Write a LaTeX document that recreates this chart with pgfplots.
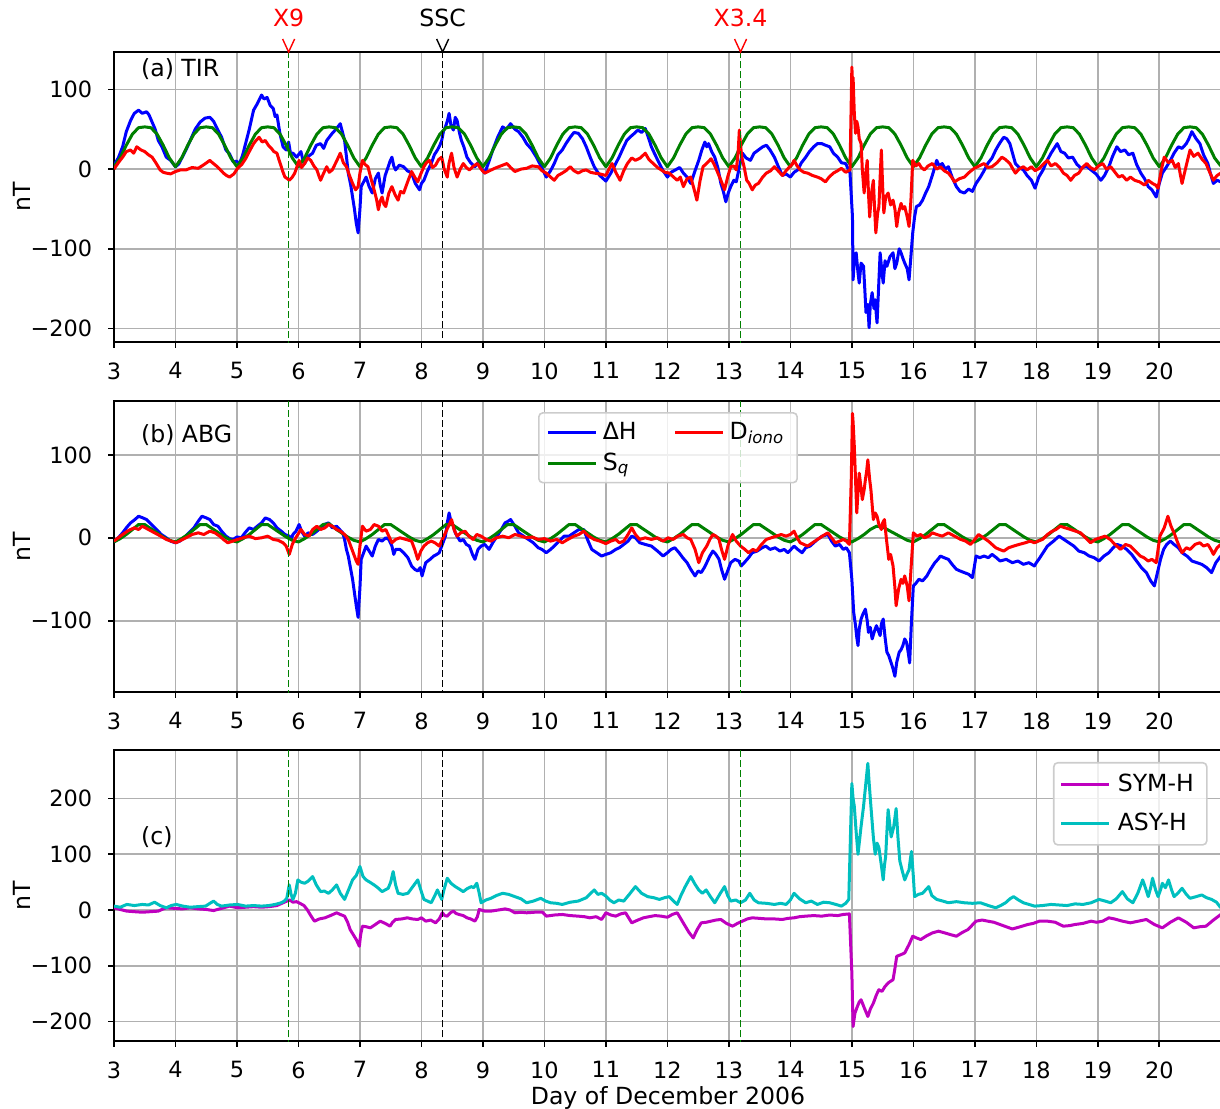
\documentclass[border=0pt]{standalone}
\usepackage{fontspec}
\setmainfont{DejaVu Sans}
\usepackage{pgfplots}
\pgfplotsset{compat=1.18}
\definecolor{gridc}{HTML}{B0B0B0}
\definecolor{mgreen}{HTML}{008000}
\definecolor{mmag}{HTML}{BF00BF}
\definecolor{mcyan}{HTML}{00BFBF}

\pgfplotsset{
  panel/.style={
    scale only axis, width=554pt, height=145.5pt,
    xmin=3, xmax=21.02,
    xtick={3,4,...,20},
    xticklabels={3,4,5,6,7,8,9,10,11,12,13,14,15,16,17,18,19,20},
    xtick pos=bottom, ytick pos=left,
    tick align=outside, major tick length=2.9pt,
    tick style={black, line width=0.8pt},
    axis line style={line width=0.8pt},
    grid=major, grid style={gridc, line width=0.8pt},
    tick label style={font=\fontsize{11.2}{13}\selectfont},
    xticklabel style={anchor=north, inner sep=0pt, yshift=-7.2pt},
    yticklabel style={anchor=east, inner sep=0pt, xshift=-7.8pt},
    ylabel={nT},
    ylabel style={at={(axis description cs:-0.083,0.5)}, anchor=center},
    clip mode=individual,
    every axis plot/.append style={line width=1.5pt, line join=round},
    legend image code/.code={\draw[#1] (0pt,0pt) -- (24pt,0pt);},
  },
  evline/.style={line width=0.8pt, dash pattern=on 3.5pt off 1.5pt, forget plot},
}

\begin{document}
\fontsize{11.8}{14.2}\selectfont
\begin{tikzpicture}

% ---------------- (a) TIR ----------------
\begin{axis}[panel, at={(57pt,-171pt)}, anchor=south west, height=145pt,
  ymin=-217, ymax=147,
  ytick={-200,-100,0,100}, yticklabels={−200,−100,0,100}]
\addplot[blue, forget plot] coordinates {
(3.0,5)(3.07,14)(3.14,28)(3.2,47)(3.27,61)(3.33,70)(3.4,74)(3.46,70)(3.53,72)(3.57,68)(3.62,59)(3.67,50)(3.72,36)(3.78,28)(3.85,15)(3.92,11)(4.0,3)(4.05,6)(4.11,15)(4.17,24)(4.24,36)(4.32,50)(4.4,59)(4.48,64)(4.56,65)(4.62,60)(4.69,49)(4.75,40)(4.82,24)(4.88,19)(4.94,9)(4.99,10)(5.04,7)(5.09,17)(5.14,32)(5.2,50)(5.27,74)(5.33,82)(5.4,93)(5.44,88)(5.49,90)(5.54,80)(5.59,76)(5.62,66)(5.65,68)(5.7,44)(5.75,28)(5.8,24)(5.84,34)(5.87,20)(5.91,20)(5.97,15)(6.04,22)(6.07,12)(6.1,7)(6.16,16)(6.23,20)(6.29,30)(6.36,32)(6.41,26)(6.46,36)(6.5,40)(6.55,45)(6.61,50)(6.68,57)(6.71,48)(6.75,36)(6.78,16)(6.81,-5)(6.85,-20)(6.88,-35)(6.91,-50)(6.94,-68)(6.97,-80)(7.0,-50)(7.02,-22)(7.06,-16)(7.1,-10)(7.15,-22)(7.2,-30)(7.25,-12)(7.3,-5)(7.33,-20)(7.36,-30)(7.41,-8)(7.46,3)(7.49,10)(7.52,15)(7.55,4)(7.58,-1)(7.64,5)(7.71,3)(7.77,-2)(7.84,-5)(7.9,-18)(7.97,-26)(8.0,-18)(8.04,-14)(8.1,-2)(8.16,7)(8.21,18)(8.26,24)(8.3,30)(8.33,36)(8.36,48)(8.39,53)(8.42,60)(8.45,70)(8.48,55)(8.52,49)(8.55,65)(8.58,61)(8.62,45)(8.65,36)(8.69,28)(8.74,15)(8.8,8)(8.87,3)(8.92,8)(8.97,3)(9.0,-2)(9.03,-5)(9.1,10)(9.16,24)(9.24,40)(9.32,53)(9.38,50)(9.45,57)(9.52,50)(9.58,47)(9.65,40)(9.71,32)(9.79,25)(9.87,15)(9.95,3)(10.03,-10)(10.1,-2)(10.16,7)(10.22,18)(10.29,24)(10.35,32)(10.42,40)(10.48,46)(10.55,45)(10.62,38)(10.68,28)(10.75,14)(10.81,3)(10.9,-8)(11.0,-15)(11.08,-5)(11.16,7)(11.22,16)(11.29,28)(11.34,36)(11.39,40)(11.45,44)(11.52,49)(11.58,46)(11.64,51)(11.69,40)(11.74,28)(11.8,18)(11.87,7)(11.93,-2)(12.0,-10)(12.06,-4)(12.13,-1)(12.2,2)(12.26,-5)(12.32,-10)(12.38,-18)(12.45,-2)(12.51,11)(12.56,24)(12.61,34)(12.64,28)(12.67,32)(12.72,22)(12.77,15)(12.82,2)(12.87,-18)(12.91,-28)(12.95,-41)(12.99,-30)(13.03,-22)(13.08,-14)(13.12,-16)(13.17,2)(13.22,20)(13.28,14)(13.35,11)(13.41,20)(13.48,24)(13.55,28)(13.61,30)(13.67,24)(13.74,15)(13.8,4)(13.87,-8)(13.93,-6)(14.0,-10)(14.06,-4)(14.12,-1)(14.18,8)(14.25,15)(14.31,22)(14.38,28)(14.44,32)(14.51,32)(14.57,30)(14.64,28)(14.7,20)(14.77,15)(14.83,8)(14.9,7)(14.97,-5)(15.01,-60)(15.02,-139)(15.04,-115)(15.07,-105)(15.1,-130)(15.12,-143)(15.15,-118)(15.19,-122)(15.21,-150)(15.23,-180)(15.26,-170)(15.28,-199)(15.3,-170)(15.33,-155)(15.36,-175)(15.38,-164)(15.4,-185)(15.41,-193)(15.44,-140)(15.46,-105)(15.49,-130)(15.51,-143)(15.54,-115)(15.57,-122)(15.62,-110)(15.67,-105)(15.7,-125)(15.73,-118)(15.77,-100)(15.8,-105)(15.83,-112)(15.86,-118)(15.9,-125)(15.93,-139)(15.96,-110)(15.99,-80)(16.02,-60)(16.05,-47)(16.1,-45)(16.15,-39)(16.2,-30)(16.25,-22)(16.32,-5)(16.38,11)(16.42,4)(16.47,7)(16.52,0)(16.57,3)(16.63,-10)(16.7,-22)(16.76,-28)(16.83,-30)(16.9,-25)(16.96,-28)(17.02,-18)(17.09,-10)(17.15,-2)(17.21,7)(17.28,14)(17.34,24)(17.4,32)(17.47,40)(17.52,38)(17.57,32)(17.62,18)(17.66,7)(17.72,2)(17.79,-1)(17.85,-8)(17.92,-14)(17.98,-24)(18.04,-10)(18.11,-1)(18.17,10)(18.24,20)(18.29,26)(18.34,32)(18.4,22)(18.46,20)(18.52,14)(18.59,15)(18.66,6)(18.73,1)(18.81,4)(18.89,-1)(18.97,-6)(19.05,-14)(19.11,-8)(19.18,3)(19.24,16)(19.31,28)(19.37,22)(19.44,24)(19.5,18)(19.57,20)(19.63,6)(19.7,-5)(19.76,-12)(19.82,-22)(19.88,-26)(19.95,-35)(20.0,-18)(20.05,-5)(20.11,2)(20.18,11)(20.24,20)(20.31,28)(20.37,26)(20.44,32)(20.48,38)(20.53,47)(20.6,38)(20.66,32)(20.72,18)(20.79,7)(20.83,-5)(20.88,-18)(20.94,-14)(21.0,-16)
};
\addplot[mgreen, forget plot] coordinates {
(3.0,3)(3.1,14)(3.2,30)(3.3,44)(3.4,52)(3.5,53)(3.6,52)(3.7,44)(3.8,30)(3.9,14)
(4.0,3)(4.1,14)(4.2,30)(4.3,44)(4.4,52)(4.5,53)(4.6,52)(4.7,44)(4.8,30)(4.9,14)
(5.0,3)(5.1,14)(5.2,30)(5.3,44)(5.4,52)(5.5,53)(5.6,52)(5.7,44)(5.8,30)(5.9,14)
(6.0,3)(6.1,14)(6.2,30)(6.3,44)(6.4,52)(6.5,53)(6.6,52)(6.7,44)(6.8,30)(6.9,14)
(7.0,3)(7.1,14)(7.2,30)(7.3,44)(7.4,52)(7.5,53)(7.6,52)(7.7,44)(7.8,30)(7.9,14)
(8.0,3)(8.1,14)(8.2,30)(8.3,44)(8.4,52)(8.5,53)(8.6,52)(8.7,44)(8.8,30)(8.9,14)
(9.0,3)(9.1,14)(9.2,30)(9.3,44)(9.4,52)(9.5,53)(9.6,52)(9.7,44)(9.8,30)(9.9,14)
(10.0,3)(10.1,14)(10.2,30)(10.3,44)(10.4,52)(10.5,53)(10.6,52)(10.7,44)(10.8,30)(10.9,14)
(11.0,3)(11.1,14)(11.2,30)(11.3,44)(11.4,52)(11.5,53)(11.6,52)(11.7,44)(11.8,30)(11.9,14)
(12.0,3)(12.1,14)(12.2,30)(12.3,44)(12.4,52)(12.5,53)(12.6,52)(12.7,44)(12.8,30)(12.9,14)
(13.0,3)(13.1,14)(13.2,30)(13.3,44)(13.4,52)(13.5,53)(13.6,52)(13.7,44)(13.8,30)(13.9,14)
(14.0,3)(14.1,14)(14.2,30)(14.3,44)(14.4,52)(14.5,53)(14.6,52)(14.7,44)(14.8,30)(14.9,14)
(15.0,3)(15.1,14)(15.2,30)(15.3,44)(15.4,52)(15.5,53)(15.6,52)(15.7,44)(15.8,30)(15.9,14)
(16.0,3)(16.1,14)(16.2,30)(16.3,44)(16.4,52)(16.5,53)(16.6,52)(16.7,44)(16.8,30)(16.9,14)
(17.0,3)(17.1,14)(17.2,30)(17.3,44)(17.4,52)(17.5,53)(17.6,52)(17.7,44)(17.8,30)(17.9,14)
(18.0,3)(18.1,14)(18.2,30)(18.3,44)(18.4,52)(18.5,53)(18.6,52)(18.7,44)(18.8,30)(18.9,14)
(19.0,3)(19.1,14)(19.2,30)(19.3,44)(19.4,52)(19.5,53)(19.6,52)(19.7,44)(19.8,30)(19.9,14)
(20.0,3)(20.1,14)(20.2,30)(20.3,44)(20.4,52)(20.5,53)(20.6,52)(20.7,44)(20.8,30)(20.9,14)(21.0,4)
};
\addplot[red, forget plot] coordinates {
(3.0,0)(3.07,8)(3.14,15)(3.2,22)(3.27,24)(3.32,20)(3.37,28)(3.44,24)(3.5,22)(3.56,18)(3.62,15)(3.68,8)(3.75,-1)(3.8,-4)(3.85,-5)(3.92,-6)(4.0,-3)(4.08,-1)(4.17,-1)(4.27,2)(4.37,1)(4.47,6)(4.56,11)(4.6,8)(4.65,5)(4.72,0)(4.78,-5)(4.83,-8)(4.88,-10)(4.95,-6)(5.01,1)(5.08,6)(5.14,13)(5.2,22)(5.27,32)(5.31,36)(5.36,40)(5.41,34)(5.46,36)(5.51,30)(5.56,26)(5.6,22)(5.65,20)(5.69,10)(5.72,3)(5.75,-4)(5.78,-10)(5.82,-12)(5.85,-14)(5.9,-10)(5.94,-5)(5.98,4)(6.01,11)(6.05,2)(6.1,7)(6.15,14)(6.2,11)(6.25,4)(6.3,-1)(6.33,-8)(6.36,-14)(6.41,-5)(6.46,3)(6.5,-4)(6.55,-1)(6.62,10)(6.68,20)(6.73,8)(6.78,3)(6.83,-8)(6.88,-18)(6.93,-26)(6.97,-22)(7.0,-5)(7.04,11)(7.08,6)(7.13,3)(7.18,-12)(7.23,-26)(7.27,-38)(7.3,-51)(7.33,-40)(7.36,-35)(7.39,-44)(7.42,-47)(7.47,-30)(7.52,-22)(7.57,-32)(7.62,-39)(7.66,-28)(7.71,-30)(7.78,-15)(7.84,-3)(7.89,-10)(7.94,-16)(7.99,-6)(8.04,3)(8.08,8)(8.13,11)(8.18,2)(8.23,5)(8.28,12)(8.33,15)(8.37,0)(8.42,-10)(8.45,8)(8.49,20)(8.53,2)(8.58,-10)(8.63,0)(8.68,7)(8.73,2)(8.78,-1)(8.85,4)(8.91,7)(8.97,0)(9.03,-5)(9.11,-2)(9.19,1)(9.29,4)(9.39,7)(9.45,2)(9.52,-3)(9.62,0)(9.71,1)(9.8,4)(9.9,3)(9.96,-2)(10.03,-5)(10.1,-10)(10.16,-14)(10.22,-8)(10.29,-5)(10.35,-2)(10.42,3)(10.48,-2)(10.55,-5)(10.62,-2)(10.68,-1)(10.75,-4)(10.81,-5)(10.9,-6)(11.0,-8)(11.05,0)(11.1,7)(11.16,-4)(11.23,-14)(11.29,-2)(11.35,7)(11.42,14)(11.48,11)(11.56,14)(11.64,20)(11.7,12)(11.77,7)(11.84,2)(11.9,-1)(11.96,-4)(12.03,-5)(12.1,-10)(12.16,-14)(12.21,-10)(12.26,-22)(12.32,-12)(12.38,-10)(12.43,-24)(12.48,-39)(12.53,-15)(12.58,3)(12.65,8)(12.71,13)(12.76,6)(12.8,-1)(12.87,-14)(12.93,-26)(12.98,-10)(13.03,3)(13.08,4)(13.12,-1)(13.15,20)(13.17,49)(13.19,30)(13.21,15)(13.25,2)(13.29,-14)(13.33,-18)(13.38,-26)(13.43,-20)(13.48,-18)(13.55,-10)(13.61,-5)(13.68,-2)(13.74,3)(13.8,-2)(13.87,-8)(13.93,-2)(13.99,3)(14.03,6)(14.06,11)(14.11,4)(14.16,-1)(14.22,-4)(14.28,-5)(14.36,-8)(14.44,-10)(14.5,-12)(14.57,-16)(14.63,-10)(14.7,-5)(14.77,-2)(14.83,1)(14.9,-4)(14.97,-1)(15.0,128)(15.01,110)(15.02,115)(15.04,70)(15.06,45)(15.08,60)(15.1,53)(15.12,38)(15.15,32)(15.17,0)(15.2,-30)(15.22,-10)(15.25,11)(15.27,-30)(15.29,-60)(15.32,-30)(15.35,-14)(15.37,-50)(15.39,-80)(15.42,-55)(15.44,-47)(15.46,-10)(15.48,24)(15.5,-20)(15.52,-55)(15.55,-35)(15.59,-30)(15.63,-45)(15.67,-39)(15.7,-50)(15.73,-72)(15.76,-55)(15.8,-43)(15.83,-50)(15.86,-47)(15.9,-60)(15.93,-72)(15.96,-40)(15.99,11)(16.04,4)(16.09,7)(16.13,2)(16.18,-1)(16.24,4)(16.31,7)(16.38,0)(16.44,3)(16.5,-2)(16.57,-5)(16.62,-10)(16.67,-16)(16.75,-12)(16.83,-10)(16.91,-4)(16.99,1)(17.07,4)(17.15,7)(17.21,2)(17.28,3)(17.36,8)(17.44,15)(17.5,12)(17.57,7)(17.62,0)(17.66,-5)(17.72,0)(17.79,3)(17.85,-1)(17.92,3)(17.98,-2)(18.05,1)(18.11,6)(18.18,11)(18.24,4)(18.31,7)(18.38,2)(18.44,-5)(18.5,-8)(18.56,-14)(18.62,-8)(18.69,-5)(18.75,2)(18.82,7)(18.88,2)(18.95,-1)(19.01,4)(19.08,7)(19.14,0)(19.21,3)(19.28,-4)(19.34,-10)(19.4,-8)(19.47,-14)(19.53,-10)(19.6,-14)(19.68,-16)(19.76,-20)(19.82,-14)(19.89,-18)(19.94,-20)(19.98,-24)(20.03,-2)(20.08,15)(20.15,8)(20.21,11)(20.26,2)(20.31,7)(20.34,-6)(20.37,-18)(20.44,5)(20.5,24)(20.56,16)(20.63,20)(20.7,12)(20.76,7)(20.82,-4)(20.88,-14)(20.94,-8)(21.0,-5)
};
\addplot[mgreen, evline] coordinates {(5.84,-300)(5.84,300)};
\addplot[black, evline] coordinates {(8.345,-300)(8.345,300)};
\addplot[mgreen, evline] coordinates {(13.19,-300)(13.19,300)};
\node[anchor=base west] at (rel axis cs:0.017,0.914) {(a) TIR};
\draw[red, line width=0.7pt] ([xshift=-3pt,yshift=6.5pt]axis cs:5.84,147) -- (axis cs:5.84,147) -- ++(3pt,6.5pt);
\draw[black, line width=0.7pt] ([xshift=-3pt,yshift=6.5pt]axis cs:8.345,147) -- (axis cs:8.345,147) -- ++(3pt,6.5pt);
\draw[red, line width=0.7pt] ([xshift=-3pt,yshift=6.5pt]axis cs:13.19,147) -- (axis cs:13.19,147) -- ++(3pt,6.5pt);
\node[red, anchor=base] at ([yshift=12.5pt]axis cs:5.84,147) {X9};
\node[black, anchor=base] at ([yshift=12.5pt]axis cs:8.345,147) {SSC};
\node[red, anchor=base] at ([yshift=12.5pt]axis cs:13.19,147) {X3.4};
\end{axis}

% ---------------- (b) ABG ----------------
\begin{axis}[panel, at={(57pt,-346pt)}, anchor=south west,
  ymin=-186, ymax=165,
  ytick={-100,0,100}, yticklabels={−100,0,100},
  legend columns=2,
  legend style={at={(0.5,0.962)}, anchor=north, draw=black!20, line width=0.8pt,
    rounded corners=2pt, fill=white, fill opacity=0.8, text opacity=1,
    inner xsep=4pt, inner ysep=2pt, row sep=0pt,
    nodes={inner sep=2.5pt, anchor=west},
    /tikz/every even column/.append style={column sep=16pt}}]
\addplot[blue, forget plot] coordinates {
(3.0,-5)(3.07,0)(3.14,6)(3.2,12)(3.27,18)(3.34,22)(3.4,26)(3.47,24)(3.53,22)(3.61,16)(3.69,10)(3.77,4)(3.85,0)(3.92,-4)(4.0,-6)(4.07,-4)(4.14,0)(4.22,6)(4.3,12)(4.37,20)(4.43,26)(4.5,24)(4.56,22)(4.62,16)(4.69,14)(4.75,8)(4.82,2)(4.88,-1)(4.94,-2)(5.0,1)(5.07,0)(5.13,6)(5.2,12)(5.27,10)(5.33,14)(5.4,18)(5.46,24)(5.53,22)(5.59,18)(5.65,12)(5.72,8)(5.78,4)(5.85,2)(5.88,-2)(5.91,4)(5.96,8)(6.01,16)(6.05,8)(6.1,2)(6.16,6)(6.23,4)(6.3,8)(6.36,12)(6.42,16)(6.49,18)(6.55,12)(6.62,14)(6.67,10)(6.72,6)(6.75,-2)(6.78,-14)(6.81,-22)(6.84,-34)(6.88,-50)(6.91,-66)(6.94,-82)(6.97,-96)(7.0,-60)(7.02,-26)(7.06,-18)(7.1,-10)(7.15,-16)(7.2,-22)(7.25,-10)(7.3,-2)(7.36,-4)(7.42,0)(7.47,-2)(7.52,-10)(7.55,-20)(7.58,-14)(7.65,-14)(7.71,-18)(7.78,-24)(7.84,-34)(7.89,-38)(7.94,-40)(7.98,-36)(8.01,-46)(8.04,-38)(8.07,-30)(8.14,-26)(8.2,-22)(8.25,-20)(8.29,-18)(8.34,-8)(8.39,2)(8.42,18)(8.45,30)(8.48,20)(8.52,14)(8.55,6)(8.58,2)(8.63,-4)(8.68,-2)(8.73,-8)(8.78,-10)(8.83,-20)(8.87,-26)(8.92,-14)(8.97,-10)(9.03,-8)(9.1,-14)(9.16,-6)(9.23,2)(9.3,10)(9.36,18)(9.41,20)(9.45,22)(9.52,14)(9.58,6)(9.66,2)(9.74,-2)(9.82,-6)(9.9,-12)(9.96,-14)(10.03,-18)(10.1,-14)(10.16,-10)(10.24,-4)(10.32,2)(10.4,2)(10.48,6)(10.56,10)(10.64,10)(10.7,-2)(10.77,-14)(10.85,-18)(10.93,-22)(11.0,-20)(11.08,-18)(11.16,-14)(11.22,-12)(11.29,-8)(11.36,-4)(11.42,2)(11.48,0)(11.55,-6)(11.64,-8)(11.74,-10)(11.84,-16)(11.93,-22)(12.0,-18)(12.06,-14)(12.12,-12)(12.19,-18)(12.25,-24)(12.32,-30)(12.38,-38)(12.45,-46)(12.5,-40)(12.55,-42)(12.6,-36)(12.64,-30)(12.69,-22)(12.74,-16)(12.79,-20)(12.84,-26)(12.88,-38)(12.93,-50)(12.98,-40)(13.03,-30)(13.1,-26)(13.16,-28)(13.2,-34)(13.25,-30)(13.32,-24)(13.38,-18)(13.46,-16)(13.54,-12)(13.6,-10)(13.67,-14)(13.75,-12)(13.83,-16)(13.9,-14)(13.96,-18)(14.01,-14)(14.06,-10)(14.12,-14)(14.19,-18)(14.25,-12)(14.32,-10)(14.38,-6)(14.44,-2)(14.52,2)(14.61,4)(14.67,-4)(14.73,-10)(14.8,-8)(14.86,-14)(14.91,-12)(14.96,-18)(15.0,-50)(15.03,-90)(15.06,-106)(15.08,-120)(15.1,-130)(15.12,-110)(15.15,-98)(15.18,-92)(15.22,-86)(15.25,-100)(15.27,-114)(15.3,-108)(15.33,-122)(15.37,-112)(15.4,-106)(15.43,-112)(15.46,-118)(15.48,-104)(15.51,-98)(15.54,-120)(15.57,-138)(15.6,-142)(15.64,-151)(15.67,-158)(15.7,-167)(15.73,-150)(15.77,-138)(15.8,-135)(15.83,-130)(15.86,-122)(15.89,-126)(15.92,-140)(15.94,-151)(15.97,-100)(16.0,-58)(16.04,-55)(16.09,-50)(16.15,-52)(16.22,-46)(16.28,-38)(16.35,-30)(16.4,-26)(16.44,-22)(16.5,-24)(16.57,-26)(16.63,-32)(16.7,-38)(16.76,-40)(16.83,-42)(16.9,-44)(16.96,-48)(16.99,-36)(17.02,-22)(17.08,-24)(17.15,-22)(17.22,-24)(17.28,-20)(17.35,-24)(17.41,-28)(17.51,-26)(17.61,-30)(17.7,-28)(17.79,-32)(17.88,-30)(17.97,-34)(18.0,-30)(18.04,-26)(18.11,-18)(18.18,-10)(18.28,-4)(18.37,2)(18.45,-2)(18.53,-6)(18.61,-10)(18.69,-16)(18.78,-18)(18.86,-22)(18.94,-24)(19.02,-28)(19.1,-22)(19.18,-18)(19.25,-12)(19.31,-8)(19.39,-10)(19.47,-14)(19.55,-20)(19.63,-28)(19.71,-36)(19.79,-42)(19.86,-52)(19.92,-58)(19.97,-42)(20.02,-26)(20.07,-14)(20.12,-8)(20.18,-4)(20.24,-8)(20.31,-12)(20.37,-18)(20.45,-22)(20.53,-28)(20.61,-30)(20.69,-32)(20.77,-36)(20.85,-42)(20.92,-30)(21.0,-22)
};
\addplot[mgreen, forget plot] coordinates {
(3.0,-5)(3.1,-1)(3.2,4)(3.3,10)(3.4,16)(3.5,16)(3.6,11)(3.7,6)(3.8,1)(3.9,-3)
(4.0,-5)(4.1,-1)(4.2,4)(4.3,10)(4.4,16)(4.5,16)(4.6,11)(4.7,6)(4.8,1)(4.9,-3)
(5.0,-5)(5.1,-1)(5.2,4)(5.3,10)(5.4,16)(5.5,16)(5.6,11)(5.7,6)(5.8,1)(5.9,-3)
(6.0,-5)(6.1,-1)(6.2,4)(6.3,10)(6.4,16)(6.5,17)(6.6,11)(6.7,6)(6.8,1)(6.9,-3)
(7.0,-5)(7.1,-1)(7.2,4)(7.3,10)(7.4,16)(7.5,16)(7.6,11)(7.7,6)(7.8,1)(7.9,-3)
(8.0,-5)(8.1,-1)(8.2,4)(8.3,10)(8.4,16)(8.5,16)(8.6,11)(8.7,6)(8.8,1)(8.9,-3)
(9.0,-5)(9.1,-1)(9.2,4)(9.3,10)(9.4,16)(9.5,16)(9.6,11)(9.7,6)(9.8,1)(9.9,-3)
(10.0,-5)(10.1,-1)(10.2,4)(10.3,10)(10.4,16)(10.5,16)(10.6,11)(10.7,6)(10.8,1)(10.9,-3)
(11.0,-5)(11.1,-1)(11.2,4)(11.3,10)(11.4,16)(11.5,16)(11.6,11)(11.7,6)(11.8,1)(11.9,-3)
(12.0,-5)(12.1,-1)(12.2,4)(12.3,10)(12.4,16)(12.5,16)(12.6,11)(12.7,6)(12.8,1)(12.9,-3)
(13.0,-5)(13.1,-1)(13.2,4)(13.3,10)(13.4,16)(13.5,16)(13.6,11)(13.7,6)(13.8,1)(13.9,-3)
(14.0,-5)(14.1,-1)(14.2,4)(14.3,10)(14.4,16)(14.5,16)(14.6,11)(14.7,6)(14.8,1)(14.9,-3)
(15.0,-5)(15.1,-1)(15.2,4)(15.3,10)(15.4,14)(15.5,13)(15.6,9)(15.7,5)(15.8,1)(15.9,-3)
(16.0,-5)(16.1,-1)(16.2,4)(16.3,10)(16.4,16)(16.5,16)(16.6,11)(16.7,6)(16.8,1)(16.9,-3)
(17.0,-5)(17.1,-1)(17.2,4)(17.3,10)(17.4,16)(17.5,16)(17.6,11)(17.7,6)(17.8,1)(17.9,-3)
(18.0,-5)(18.1,-1)(18.2,4)(18.3,10)(18.4,16)(18.5,16)(18.6,11)(18.7,6)(18.8,1)(18.9,-3)
(19.0,-5)(19.1,-1)(19.2,4)(19.3,10)(19.4,16)(19.5,16)(19.6,11)(19.7,6)(19.8,1)(19.9,-3)
(20.0,-5)(20.1,-1)(20.2,4)(20.3,10)(20.4,16)(20.5,16)(20.6,11)(20.7,6)(20.8,1)(20.9,-3)(21.0,-5)
};
\addplot[red, forget plot] coordinates {
(3.0,-4)(3.07,0)(3.14,4)(3.24,9)(3.33,12)(3.4,10)(3.46,14)(3.56,10)(3.66,6)(3.76,2)(3.85,-2)(3.93,-4)(4.01,-6)(4.09,-3)(4.17,0)(4.27,4)(4.37,6)(4.46,4)(4.56,8)(4.64,6)(4.72,2)(4.78,-2)(4.85,-6)(4.93,-4)(5.01,-2)(5.1,0)(5.2,2)(5.3,-1)(5.4,0)(5.5,2)(5.59,-2)(5.67,-3)(5.75,-6)(5.8,-10)(5.85,-20)(5.9,-8)(5.94,-2)(5.99,4)(6.04,10)(6.1,4)(6.17,2)(6.23,10)(6.3,14)(6.36,10)(6.43,12)(6.49,16)(6.55,14)(6.62,10)(6.68,8)(6.75,4)(6.81,-2)(6.86,-12)(6.91,-22)(6.94,-28)(6.97,-32)(7.0,-10)(7.04,14)(7.1,8)(7.17,10)(7.23,16)(7.3,14)(7.36,8)(7.42,10)(7.47,2)(7.52,-6)(7.58,-2)(7.65,0)(7.75,-2)(7.84,-4)(7.89,-14)(7.94,-26)(7.99,-16)(8.04,-10)(8.1,-6)(8.16,-4)(8.22,-6)(8.29,-10)(8.34,-2)(8.39,6)(8.44,14)(8.49,22)(8.53,10)(8.58,2)(8.64,6)(8.71,8)(8.77,2)(8.84,-2)(8.9,4)(8.97,2)(9.05,-2)(9.13,-4)(9.22,0)(9.32,2)(9.42,0)(9.52,4)(9.62,2)(9.71,0)(9.8,1)(9.9,-2)(10.0,-1)(10.1,-4)(10.2,-2)(10.29,-6)(10.38,-2)(10.48,2)(10.56,4)(10.64,8)(10.72,2)(10.81,-2)(10.9,-4)(11.0,-7)(11.08,-4)(11.16,-2)(11.22,-6)(11.29,-4)(11.36,4)(11.42,12)(11.48,4)(11.55,-2)(11.64,0)(11.74,-2)(11.84,0)(11.93,-4)(12.01,0)(12.09,-2)(12.17,2)(12.26,4)(12.32,0)(12.38,-2)(12.45,-14)(12.51,-30)(12.57,-18)(12.64,-10)(12.69,-2)(12.74,4)(12.79,2)(12.84,-2)(12.88,-14)(12.93,-26)(12.99,-8)(13.06,4)(13.12,-4)(13.19,-10)(13.26,-14)(13.32,-18)(13.39,-14)(13.45,-16)(13.53,-8)(13.61,-2)(13.69,0)(13.77,2)(13.85,4)(13.93,2)(14.0,4)(14.06,8)(14.11,0)(14.16,-6)(14.22,-8)(14.28,-10)(14.36,-6)(14.44,-2)(14.52,2)(14.61,6)(14.67,0)(14.73,-6)(14.8,-4)(14.86,-2)(14.91,-4)(14.96,-8)(14.99,70)(15.01,150)(15.02,140)(15.04,110)(15.06,70)(15.08,30)(15.1,55)(15.12,78)(15.15,60)(15.17,46)(15.2,58)(15.22,70)(15.24,80)(15.26,94)(15.29,70)(15.31,58)(15.33,40)(15.35,22)(15.38,30)(15.41,26)(15.44,16)(15.48,10)(15.5,18)(15.53,22)(15.56,0)(15.6,-26)(15.63,-20)(15.67,-34)(15.7,-60)(15.72,-82)(15.76,-62)(15.8,-50)(15.83,-55)(15.86,-46)(15.9,-58)(15.93,-76)(15.96,-40)(16.0,6)(16.06,2)(16.12,4)(16.18,0)(16.25,2)(16.31,6)(16.38,4)(16.47,2)(16.57,6)(16.67,2)(16.77,-2)(16.85,-4)(16.93,-8)(17.0,-2)(17.06,4)(17.14,0)(17.22,-4)(17.28,-8)(17.34,-12)(17.4,-14)(17.47,-16)(17.55,-12)(17.63,-10)(17.72,-8)(17.82,-6)(17.9,-4)(17.97,-6)(18.03,-4)(18.1,-2)(18.18,4)(18.26,8)(18.32,10)(18.39,14)(18.47,12)(18.56,10)(18.64,8)(18.72,6)(18.8,0)(18.88,-6)(18.96,-2)(19.04,0)(19.12,2)(19.2,-2)(19.28,-8)(19.37,-14)(19.45,-8)(19.53,-10)(19.61,-16)(19.69,-22)(19.75,-24)(19.82,-28)(19.88,-26)(19.95,-30)(19.98,-14)(20.01,2)(20.08,12)(20.14,26)(20.19,14)(20.24,6)(20.3,-6)(20.37,-18)(20.44,-12)(20.5,-14)(20.58,-8)(20.66,-6)(20.72,-10)(20.79,-8)(20.84,-14)(20.88,-20)(20.94,-12)(21.0,-8)
};
\addplot[mgreen, evline] coordinates {(5.84,-300)(5.84,300)};
\addplot[black, evline] coordinates {(8.345,-300)(8.345,300)};
\addplot[mgreen, evline] coordinates {(13.19,-300)(13.19,300)};
\addlegendimage{blue, line width=1.5pt}
\addlegendentry{ΔH}
\addlegendimage{red, line width=1.5pt}
\addlegendentry{D\textsubscript{\textit{iono}}}
\addlegendimage{mgreen, line width=1.5pt}
\addlegendentry{S\textsubscript{\textit{q}}}
\node[anchor=base west] at (rel axis cs:0.017,0.856) {(b) ABG};
\end{axis}

% ---------------- (c) ----------------
\begin{axis}[panel, at={(57pt,-520.5pt)}, anchor=south west,
  ymin=-235, ymax=287,
  ytick={-200,-100,0,100,200}, yticklabels={−200,−100,0,100,200},
  xlabel={Day of December 2006},
  xlabel style={at={(axis description cs:0.5,0)}, anchor=north, inner sep=0pt, yshift=-22.5pt},
  legend style={at={(0.987,0.959)}, anchor=north east, draw=black!20, line width=0.8pt,
    rounded corners=2pt, fill=white, fill opacity=0.8, text opacity=1,
    inner xsep=3pt, inner ysep=2pt, row sep=2pt,
    nodes={inner sep=3.5pt, anchor=west}}]
\addplot[mmag] coordinates {
(3.0,4)(3.1,1)(3.21,-2)(3.33,-3)(3.46,-4)(3.59,-3)(3.72,-2)(3.78,1)(3.85,4)(3.98,3)(4.11,2)(4.24,4)(4.37,2)(4.5,1)(4.62,-1)(4.75,3)(4.88,7)(5.01,4)(5.14,5)(5.27,6)(5.4,5)(5.52,6)(5.65,8)(5.73,12)(5.81,16)(5.86,18)(5.91,14)(5.97,15)(6.04,11)(6.09,8)(6.14,1)(6.2,-10)(6.26,-20)(6.34,-16)(6.43,-14)(6.52,-10)(6.62,-5)(6.68,-8)(6.75,-11)(6.8,-22)(6.84,-35)(6.89,-44)(6.94,-53)(6.97,-60)(6.99,-65)(7.01,-45)(7.04,-29)(7.1,-30)(7.17,-32)(7.25,-26)(7.33,-20)(7.41,-24)(7.49,-29)(7.53,-22)(7.58,-17)(7.68,-16)(7.77,-14)(7.85,-16)(7.94,-17)(8.0,-14)(8.07,-20)(8.15,-18)(8.23,-23)(8.29,-16)(8.34,-5)(8.38,-10)(8.42,-11)(8.47,-5)(8.52,-2)(8.56,-6)(8.61,-8)(8.68,-10)(8.74,-14)(8.8,-16)(8.87,-20)(8.91,-12)(8.94,1)(9.03,-2)(9.13,-2)(9.25,0)(9.36,2)(9.44,0)(9.52,-5)(9.62,-4)(9.71,-5)(9.84,-4)(9.97,-4)(10.03,-11)(10.16,-9)(10.29,-8)(10.42,-10)(10.55,-11)(10.65,-12)(10.74,-14)(10.84,-12)(10.93,-17)(11.0,-5)(11.08,-9)(11.16,-11)(11.24,-7)(11.32,-5)(11.37,-14)(11.42,-23)(11.52,-18)(11.61,-14)(11.7,-12)(11.8,-10)(11.9,-11)(12.0,-13)(12.08,-8)(12.16,-5)(12.22,-16)(12.29,-29)(12.35,-40)(12.42,-50)(12.48,-36)(12.55,-23)(12.63,-22)(12.71,-20)(12.79,-18)(12.87,-17)(12.96,-24)(13.06,-29)(13.14,-24)(13.22,-20)(13.3,-16)(13.38,-14)(13.5,-15)(13.61,-16)(13.74,-16)(13.87,-17)(13.96,-15)(14.06,-14)(14.15,-12)(14.25,-11)(14.38,-10)(14.51,-11)(14.64,-9)(14.77,-10)(14.86,-8)(14.96,-7)(15.0,-113)(15.02,-209)(15.05,-185)(15.09,-173)(15.12,-165)(15.15,-161)(15.2,-175)(15.26,-191)(15.3,-178)(15.35,-167)(15.4,-152)(15.44,-143)(15.49,-146)(15.54,-137)(15.6,-130)(15.67,-125)(15.7,-105)(15.73,-83)(15.8,-80)(15.86,-77)(15.93,-62)(15.99,-47)(16.05,-50)(16.12,-53)(16.22,-46)(16.31,-41)(16.41,-38)(16.51,-41)(16.6,-44)(16.7,-47)(16.8,-40)(16.89,-35)(16.95,-28)(17.02,-20)(17.12,-18)(17.21,-20)(17.31,-22)(17.41,-26)(17.51,-30)(17.61,-34)(17.74,-30)(17.86,-26)(17.95,-24)(18.05,-20)(18.18,-20)(18.31,-22)(18.38,-26)(18.44,-29)(18.54,-28)(18.63,-26)(18.76,-24)(18.89,-20)(18.98,-22)(19.08,-20)(19.18,-14)(19.27,-16)(19.4,-20)(19.53,-23)(19.66,-20)(19.79,-17)(19.92,-26)(20.05,-32)(20.18,-22)(20.31,-14)(20.44,-22)(20.56,-32)(20.66,-30)(20.76,-29)(20.88,-18)(21.0,-8)
};
\addlegendentry{SYM-H}
\addplot[mcyan] coordinates {
(3.0,7)(3.1,5)(3.21,10)(3.33,8)(3.46,10)(3.56,9)(3.66,14)(3.75,8)(3.85,4)(3.93,8)(4.01,10)(4.12,7)(4.24,5)(4.36,6)(4.49,7)(4.56,12)(4.62,16)(4.68,10)(4.75,7)(4.88,9)(5.01,10)(5.14,7)(5.27,8)(5.4,7)(5.52,8)(5.62,10)(5.72,13)(5.77,16)(5.81,21)(5.85,45)(5.88,28)(5.91,19)(5.95,30)(5.99,54)(6.04,50)(6.1,48)(6.16,52)(6.23,60)(6.29,45)(6.36,33)(6.42,34)(6.49,30)(6.55,36)(6.62,45)(6.68,30)(6.75,19)(6.81,35)(6.88,54)(6.94,62)(7.0,78)(7.05,60)(7.1,54)(7.16,50)(7.23,45)(7.29,40)(7.36,33)(7.41,36)(7.46,39)(7.5,50)(7.54,69)(7.58,45)(7.62,30)(7.7,28)(7.78,30)(7.86,42)(7.94,54)(7.99,36)(8.04,19)(8.1,16)(8.16,13)(8.21,24)(8.26,36)(8.3,26)(8.33,19)(8.37,38)(8.42,57)(8.48,48)(8.55,42)(8.61,38)(8.68,33)(8.74,38)(8.81,42)(8.85,40)(8.9,48)(8.94,30)(8.97,13)(9.05,18)(9.13,21)(9.22,26)(9.32,30)(9.42,28)(9.52,24)(9.62,20)(9.71,13)(9.82,16)(9.94,21)(10.02,16)(10.1,13)(10.2,12)(10.29,10)(10.42,14)(10.55,16)(10.68,22)(10.81,36)(10.87,28)(10.93,30)(11.0,25)(11.06,18)(11.13,13)(11.21,18)(11.29,16)(11.38,28)(11.48,42)(11.58,30)(11.68,24)(11.78,22)(11.87,19)(11.95,22)(12.03,24)(12.1,16)(12.16,10)(12.22,26)(12.29,42)(12.33,50)(12.38,60)(12.45,46)(12.51,36)(12.57,30)(12.63,36)(12.7,24)(12.77,13)(12.85,28)(12.93,42)(12.98,26)(13.03,16)(13.11,18)(13.19,13)(13.27,18)(13.34,30)(13.41,18)(13.48,13)(13.61,12)(13.74,10)(13.84,12)(13.93,10)(14.0,18)(14.06,30)(14.15,20)(14.25,13)(14.34,16)(14.44,10)(14.54,14)(14.64,13)(14.74,10)(14.83,7)(14.9,12)(14.95,19)(15.0,227)(15.02,200)(15.04,186)(15.07,140)(15.1,100)(15.15,150)(15.19,186)(15.23,230)(15.26,263)(15.28,230)(15.31,186)(15.35,130)(15.38,100)(15.41,120)(15.44,112)(15.48,80)(15.51,54)(15.53,80)(15.55,96)(15.57,140)(15.59,180)(15.62,150)(15.64,131)(15.66,140)(15.68,149)(15.7,165)(15.72,182)(15.75,130)(15.78,88)(15.82,70)(15.86,54)(15.9,65)(15.93,72)(15.95,90)(15.97,105)(16.0,60)(16.02,24)(16.08,28)(16.15,30)(16.2,36)(16.25,42)(16.3,26)(16.38,19)(16.48,16)(16.57,13)(16.7,15)(16.83,13)(16.96,12)(17.09,13)(17.22,8)(17.34,4)(17.42,8)(17.5,13)(17.57,20)(17.63,24)(17.71,18)(17.79,13)(17.88,10)(17.97,7)(18.1,8)(18.24,10)(18.37,9)(18.5,8)(18.63,11)(18.76,10)(18.89,13)(19.02,19)(19.12,16)(19.21,13)(19.3,20)(19.4,33)(19.48,20)(19.57,13)(19.65,30)(19.73,54)(19.78,38)(19.82,24)(19.86,40)(19.89,57)(19.94,36)(19.98,24)(20.02,36)(20.05,48)(20.1,40)(20.15,54)(20.2,36)(20.24,24)(20.3,30)(20.37,39)(20.44,28)(20.5,21)(20.6,24)(20.69,27)(20.77,22)(20.85,19)(20.93,14)(21.0,4)
};
\addlegendentry{ASY-H}
\addplot[mgreen, evline] coordinates {(5.84,-300)(5.84,300)};
\addplot[black, evline] coordinates {(8.345,-300)(8.345,300)};
\addplot[mgreen, evline] coordinates {(13.19,-300)(13.19,300)};
\node[anchor=base west] at (rel axis cs:0.017,0.677) {(c)};
\end{axis}

\pgfresetboundingbox
\useasboundingbox (0,0) rectangle (610pt,-554pt);
\end{tikzpicture}
\end{document}
